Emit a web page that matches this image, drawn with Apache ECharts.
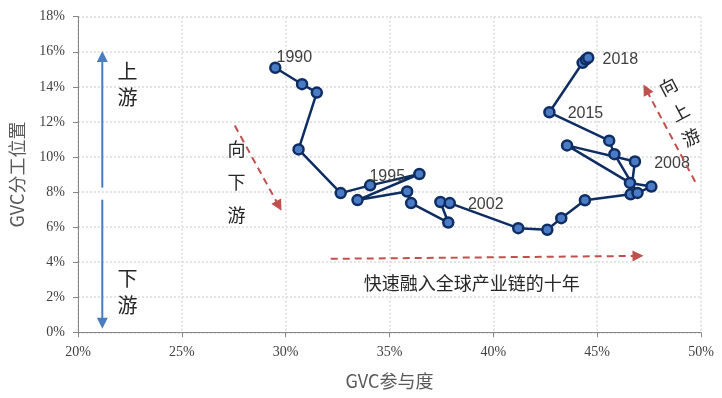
<!DOCTYPE html>
<html>
<head>
<meta charset="utf-8">
<script src="https://cdn.jsdelivr.net/npm/echarts@6/dist/echarts.min.js"></script>
<style>
html,body{margin:0;padding:0;background:#fff;}
#c{width:722px;height:398px;}
</style>
</head>
<body>
<div id="c"></div>
<script>
// ---- data ----
const years = [1990,1991,1992,1993,1994,1995,1996,1997,1998,1999,2000,2001,2002,2003,2004,2005,2006,2007,2008,2009,2010,2011,2012,2013,2014,2015,2016,2017,2018];
const participation = [29.50,30.79,31.50,30.62,32.65,34.07,36.44,33.46,35.85,36.04,37.83,37.45,37.90,41.20,42.60,43.27,44.41,46.61,46.82,43.55,46.58,47.61,46.94,45.83,45.58,42.70,44.30,44.46,44.57];
const position = [15.09,14.15,13.67,10.43,7.94,8.38,9.03,7.54,8.03,7.37,6.26,7.43,7.37,5.94,5.85,6.51,7.53,7.87,9.74,10.66,8.52,8.31,7.95,10.16,10.93,12.55,15.37,15.56,15.66];
const labeledYears = [1990,1995,2002,2008,2015,2018];
const xTicks = [20,25,30,35,40,45,50];
const yTicks = [0,2,4,6,8,10,12,14,16,18];
const xName = 'GVC参与度';
const yName = 'GVC分工位置';
const noteDecade = '快速融入全球产业链的十年';

// ---- build ----
const labelOffsets = {1990:[-10,-10],1995:[-12,-9],2002:[7,2],2008:[8,2],2015:[7,1],2018:[3,2]};
const NAVY = '#0E2D63';
const points = years.map((yr,i)=>{
  const item = {value:[participation[i], position[i]]};
  if (labeledYears.indexOf(yr) >= 0) {
    item.label = {show:true, formatter:String(yr), position:'right', distance:5, offset:labelOffsets[yr]};
  }
  return item;
});

const chart = echarts.init(document.getElementById('c'), null, {renderer:'canvas'});
const serif = '"Liberation Serif","DejaVu Serif",serif';
const cjk = '"Noto Sans CJK SC","Noto Sans",sans-serif';

chart.setOption({
  animation:false,
  backgroundColor:'#ffffff',
  grid:{left:73.3, right:21, top:16.7, bottom:65.7, containLabel:false},
  xAxis:{
    type:'value', min:xTicks[0], max:xTicks[xTicks.length-1], interval:5,
    name:xName, nameLocation:'middle', nameGap:40,
    nameTextStyle:{fontFamily:cjk, fontSize:18, color:'#595959'},
    axisLine:{show:true, lineStyle:{color:'#868686', width:1}},
    axisTick:{show:true, length:5, lineStyle:{color:'#868686'}},
    axisLabel:{formatter:'{value}%', margin:13, fontFamily:serif, fontSize:14, color:'#404040'},
    splitLine:{show:true, lineStyle:{color:'#dcdcdc', type:[2,2], width:1.5}}
  },
  yAxis:{
    type:'value', min:yTicks[0], max:yTicks[yTicks.length-1], interval:2,
    name:yName, nameLocation:'middle', nameGap:52, nameRotate:90,
    nameTextStyle:{fontFamily:cjk, fontSize:18, color:'#595959'},
    axisLine:{show:true, lineStyle:{color:'#868686', width:1}},
    axisTick:{show:true, length:5, lineStyle:{color:'#868686'}},
    axisLabel:{formatter:'{value}%', margin:13, fontFamily:serif, fontSize:14, color:'#404040'},
    splitLine:{show:true, lineStyle:{color:'#dcdcdc', type:[2,2], width:1.5}}
  },
  series:[{
    type:'line',
    data:points,
    symbol:'circle', symbolSize:10,
    showAllSymbol:true,
    lineStyle:{color:NAVY, width:2.5},
    itemStyle:{color:'#4A7BC4', borderColor:NAVY, borderWidth:2.5},
    label:{fontFamily:'"Liberation Sans","Noto Sans",sans-serif', fontSize:16, color:'#404040'},
    z:3
  }]
});

// ---- annotations (placed in data coordinates) ----
const toPx = (x,y) => chart.convertToPixel({gridIndex:0},[x,y]);
const gfx = [];
function arrow(a, b, color, dash, headLen, headW){
  const p1 = toPx(a[0],a[1]), p2 = toPx(b[0],b[1]);
  const dx = p2[0]-p1[0], dy = p2[1]-p1[1];
  const L = Math.sqrt(dx*dx+dy*dy), ux = dx/L, uy = dy/L;
  const bx = p2[0]-ux*headLen, by = p2[1]-uy*headLen;
  gfx.push({type:'line', shape:{x1:p1[0],y1:p1[1],x2:bx+ux*1,y2:by+uy*1},
    style:{stroke:color, lineWidth:2, lineDash:dash}, z:10});
  gfx.push({type:'polygon', shape:{points:[[p2[0],p2[1]],[bx-uy*headW/2,by+ux*headW/2],[bx+uy*headW/2,by-ux*headW/2]]},
    style:{fill:color}, z:10});
}
function txt(s, x, y, size, rot){
  const p = toPx(x,y);
  gfx.push({type:'text', x:p[0], y:p[1], rotation:rot||0,
    style:{text:s, fontFamily:cjk, fontSize:size, fill:'#262626', align:'center', verticalAlign:'middle'}, z:10});
}
const BLUE = '#4A7DC0', RED = '#C0504D';
// vertical blue arrows
arrow([21.17,8.25],[21.17,16.05], BLUE, null, 11, 11);
arrow([21.17,7.56],[21.17,0.2], BLUE, null, 11, 11);
txt('上',22.38,14.9,20); txt('游',22.38,13.38,20);
txt('下',22.38,3.1,20); txt('游',22.38,1.56,20);
// downstream red arrow
arrow([27.55,11.79],[29.80,6.93], RED, [7,5], 11, 11);
txt('向',27.63,10.42,18); txt('下',27.63,8.59,18); txt('游',27.63,6.70,18);
// upstream red arrow
arrow([49.72,8.59],[47.23,14.13], RED, [7,5], 11, 11);
txt('向',48.42,14.02,18,0.49); txt('上',48.99,12.55,18,0.49); txt('游',49.52,11.12,18,0.49);
// decade arrow
arrow([32.17,4.19],[47.23,4.36], RED, [7,5], 11, 11);
txt(noteDecade,38.96,2.83,18);

chart.setOption({graphic:{elements:gfx}});
</script>
</body>
</html>
